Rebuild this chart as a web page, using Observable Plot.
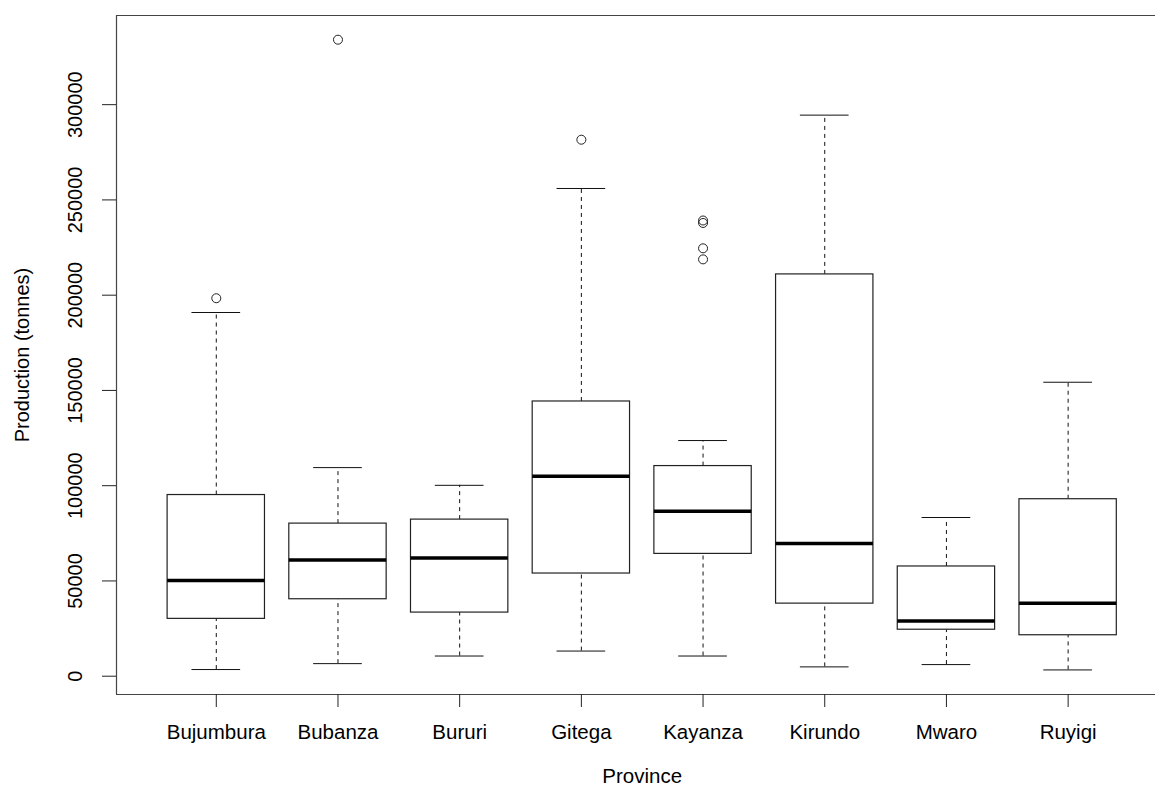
<!DOCTYPE html>
<html>
<head>
<meta charset="utf-8">
<script src="https://cdn.jsdelivr.net/npm/d3@7"></script>
<script src="https://cdn.jsdelivr.net/npm/@observablehq/plot@0.6"></script>
<style>
  html, body { margin: 0; padding: 0; background: #fff; }
  #chart svg { display: block; font-family: "Liberation Sans", Arial, sans-serif; }
</style>
</head>
<body>
<div id="chart"></div>
<script>
// ---- data ----
const provinces    = ["Bujumbura", "Bubanza", "Bururi", "Gitega", "Kayanza", "Kirundo", "Mwaro", "Ruyigi"];
const lowerWhisker = [3500,   6600,  10600,  13200,  10600,   4900,  6100,   3300];
const q1           = [30100,  40400, 33400,  53900,  64200,  38100,  24400,  21500];
const median       = [50300,  61000, 62000, 104900,  86600,  69600,  29000,  38300];
const q3           = [95100,  80100, 82200, 144200, 110300, 210900,  57600,  92900];
const upperWhisker = [190900, 109500, 100200, 256000, 123700, 294500, 83300, 154300];
const outlierProvince = ["Bujumbura", "Bubanza", "Gitega", "Kayanza", "Kayanza", "Kayanza", "Kayanza"];
const outlierValue    = [198400, 334100, 281600, 239200, 237900, 224600, 218800];
const yTicks = [0, 50000, 100000, 150000, 200000, 250000, 300000];

// ---- tables built from the arrays ----
const rows = provinces.map((p, k) => ({
  p, i: k + 1, lo: lowerWhisker[k], q1: q1[k], med: median[k], q3: q3[k], hi: upperWhisker[k]
}));
const outliers = outlierProvince.map((p, k) => ({ i: provinces.indexOf(p) + 1, v: outlierValue[k] }));

const xDomain = [0.18, 8.718];
const yDomain = [-9600, 346800];
const boxHalf = 0.4, stapleHalf = 0.2;
const frameColor = "#444";

const chart = Plot.plot({
  width: 1155,
  height: 787,
  marginLeft: 116,
  marginRight: 0,
  marginTop: 15,
  marginBottom: 93,
  style: { fontFamily: "Liberation Sans, Arial, sans-serif", background: "#fff" },
  x: { type: "linear", domain: xDomain, axis: null },
  y: { domain: yDomain, axis: null },
  marks: [
    // plot frame (right side lies outside the picture)
    Plot.ruleY([yDomain[1]], { stroke: frameColor, strokeWidth: 1.2 }),
    Plot.ruleY([yDomain[0]], { stroke: frameColor, strokeWidth: 1.2 }),
    Plot.ruleX([xDomain[0]], { stroke: frameColor, strokeWidth: 1.2 }),
    // axis tick marks (labels drawn separately)
    Plot.axisY({ ticks: yTicks, tickSize: 14, tickFormat: () => "", label: null, stroke: "#222" }),
    Plot.axisX({ ticks: rows.map(d => d.i), tickSize: 13, tickFormat: () => "", label: null, stroke: "#222" }),
    // whiskers
    Plot.ruleX(rows, { x: "i", y1: "q3", y2: "hi", stroke: "#111", strokeDasharray: "4,4" }),
    Plot.ruleX(rows, { x: "i", y1: "lo", y2: "q1", stroke: "#111", strokeDasharray: "4,4" }),
    // staples
    Plot.ruleY(rows, { y: "hi", x1: d => d.i - stapleHalf, x2: d => d.i + stapleHalf, stroke: "#111" }),
    Plot.ruleY(rows, { y: "lo", x1: d => d.i - stapleHalf, x2: d => d.i + stapleHalf, stroke: "#111" }),
    // boxes
    Plot.rect(rows, { x1: d => d.i - boxHalf, x2: d => d.i + boxHalf, y1: "q1", y2: "q3", fill: "white", stroke: "#222", strokeWidth: 1.2 }),
    // medians
    Plot.ruleY(rows, { y: "med", x1: d => d.i - boxHalf, x2: d => d.i + boxHalf, stroke: "#000", strokeWidth: 3.5 }),
    // outliers
    Plot.dot(outliers, { x: "i", y: "v", r: 4.5, stroke: "#222", fill: "none", strokeWidth: 1 }),
    // y tick labels (rotated like R)
    Plot.text(yTicks, { y: d => d, text: d => d3.format("d")(d), frameAnchor: "left", dx: -41, rotate: -90,
      textAnchor: "middle", lineAnchor: "middle", fontSize: 20, fill: "#000" }),
    // x tick labels
    Plot.text(rows, { x: "i", text: "p", frameAnchor: "bottom", dy: 38, lineAnchor: "middle", fontSize: 20.5, fill: "#000" }),
    // axis titles
    Plot.text(["Production (tonnes)"], { frameAnchor: "left", dx: -94, rotate: -90, textAnchor: "middle", lineAnchor: "middle", fontSize: 20, fill: "#000" }),
    Plot.text(["Province"], { x: [4.5], frameAnchor: "bottom", dy: 82, lineAnchor: "middle", fontSize: 20.5, fill: "#000" })
  ]
});

document.getElementById("chart").appendChild(chart);
</script>
</body>
</html>
